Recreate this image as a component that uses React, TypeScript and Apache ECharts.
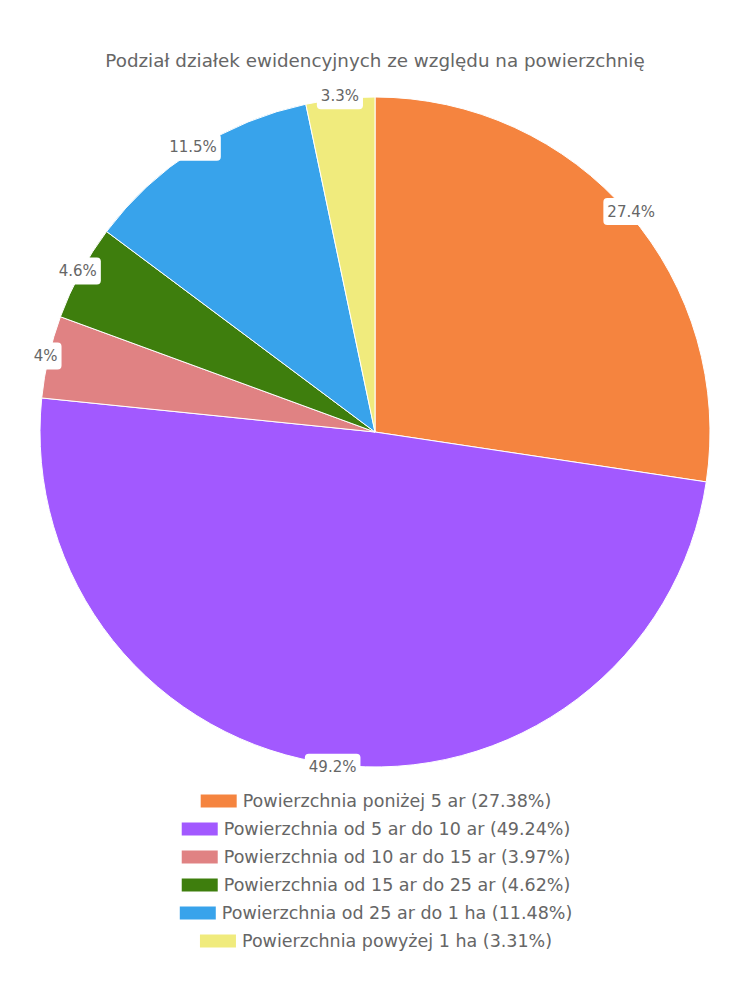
import React, { useEffect, useRef } from "react";
import * as echarts from "echarts";

const titleText = "Podział działek ewidencyjnych ze względu na powierzchnię";
const categories = [
  "Powierzchnia poniżej 5 ar",
  "Powierzchnia od 5 ar do 10 ar",
  "Powierzchnia od 10 ar do 15 ar",
  "Powierzchnia od 15 ar do 25 ar",
  "Powierzchnia od 25 ar do 1 ha",
  "Powierzchnia powyżej 1 ha",
];
const shares = [27.38, 49.24, 3.97, 4.62, 11.48, 3.31];
const colors = ["#f5843f", "#a259ff", "#e08283", "#3e7e0d", "#38a3eb", "#f0eb7d"];

const FONT = "'DejaVu Sans', sans-serif";
const TEXT = "#666666";

export default function App() {
  const ref = useRef<HTMLDivElement>(null);
  useEffect(() => {
    if (!ref.current) return;
    const chart = echarts.init(ref.current, undefined, { renderer: "svg" });
    const data = categories.map((name, i) => ({
      name,
      value: shares[i],
      itemStyle: { color: colors[i] },
    }));
    const legends = categories.map((name, i) => ({
      data: [name],
      top: 792 + i * 28,
      left: "center",
      padding: 0,
      itemWidth: 38,
      itemHeight: 15,
      itemGap: 10,
      icon: "rect",
      selectedMode: false,
      textStyle: { color: TEXT, fontSize: 17.5, fontFamily: FONT },
      formatter: (n: string) => {
        const idx = categories.indexOf(n);
        return `${n} (${shares[idx]}%)`;
      },
    }));
    chart.setOption({
      animation: false,
      title: {
        text: titleText,
        left: "center",
        top: 46,
        textStyle: { color: TEXT, fontSize: 18.3, fontWeight: "normal", fontFamily: FONT },
      },
      legend: legends,
      series: [
        {
          type: "pie",
          center: [375, 432],
          radius: [0, 335],
          startAngle: 90,
          clockwise: true,
          silent: true,
          label: { show: false },
          labelLine: { show: false },
          itemStyle: { borderColor: "#ffffff", borderWidth: 1 },
          data,
        },
        {
          type: "pie",
          center: [375, 432],
          radius: [0, 670],
          startAngle: 90,
          clockwise: true,
          silent: true,
          legendHoverLink: false,
          itemStyle: { color: "rgba(0,0,0,0)", borderWidth: 0 },
          label: {
            show: true,
            position: "inside",
            formatter: (p: any) => `${parseFloat(Number(p.value).toFixed(1))}%`,
            color: TEXT,
            fontSize: 15,
            fontFamily: FONT,
            backgroundColor: "#ffffff",
            borderRadius: 4,
            padding: [6, 4],
          },
          labelLine: { show: false },
          data: categories.map((name, i) => ({ name, value: shares[i] })),
        },
      ],
    });
    return () => chart.dispose();
  }, []);
  return (
    <div
      ref={ref}
      style={{ position: "absolute", left: 0, top: 0, width: 750, height: 1000 }}
    />
  );
}
